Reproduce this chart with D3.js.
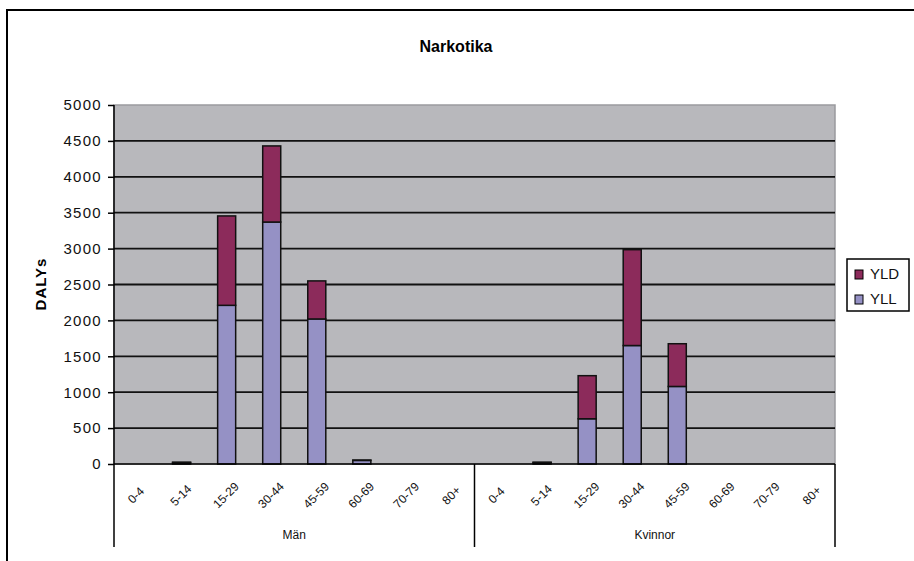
<!DOCTYPE html>
<html>
<head>
<meta charset="utf-8">
<script src="https://cdn.jsdelivr.net/npm/d3@7"></script>
<style>
  html, body { margin: 0; padding: 0; background: #fff; }
  svg { display: block; font-family: "Liberation Sans", Arial, sans-serif; }
</style>
</head>
<body>
<svg id="chart" width="914" height="561"></svg>
<script>
// Age groups within each sex
const groups = ["Män", "Kvinnor"];
const ageGroups = ["0-4", "5-14", "15-29", "30-44", "45-59", "60-69", "70-79", "80+"];

// DALYs split into years of life lost (YLL) and years lived with disability (YLD)
const yllMen = [0, 20, 2210, 3370, 2020, 50, 0, 0];
const yldMen = [0, 5, 1245, 1060, 530, 5, 0, 0];
const yllWomen = [0, 20, 630, 1650, 1080, 0, 0, 0];
const yldWomen = [0, 5, 600, 1335, 595, 0, 0, 0];

const yTicks = [0, 500, 1000, 1500, 2000, 2500, 3000, 3500, 4000, 4500, 5000];
const seriesNames = ["YLD", "YLL"];
const colors = { YLD: "#8c2b5b", YLL: "#9591c5" };

// Build one row per (sex, age) slot
const rows = [];
groups.forEach((g, gi) => {
  const yll = gi === 0 ? yllMen : yllWomen;
  const yld = gi === 0 ? yldMen : yldWomen;
  ageGroups.forEach((a, ai) => {
    rows.push({ key: g + "|" + a, group: g, age: a, YLL: yll[ai], YLD: yld[ai] });
  });
});

const svg = d3.select("#chart");
const plotL = 114, plotR = 835, plotT = 105, plotB = 464, axisEnd = 547;

const x = d3.scaleBand().domain(rows.map(d => d.key)).range([plotL, plotR]).padding(0);
const y = d3.scaleLinear().domain([0, 5000]).range([plotB, plotT]);

// Outer chart frame
svg.append("path")
  .attr("d", `M7,561 V10 H914`)
  .attr("fill", "none").attr("stroke", "#000").attr("stroke-width", 2);

// Title
svg.append("text")
  .attr("x", 456).attr("y", 52)
  .attr("text-anchor", "middle")
  .attr("font-size", 16).attr("font-weight", "bold")
  .text("Narkotika");

// Plot area background
svg.append("rect")
  .attr("x", plotL).attr("y", plotT)
  .attr("width", plotR - plotL).attr("height", plotB - plotT)
  .attr("fill", "#b8b8bc")
  .attr("stroke", "#9a9a9e").attr("stroke-width", 1.5);

// Horizontal gridlines
svg.append("g").selectAll("line")
  .data(yTicks.filter(t => t > 0 && t < 5000))
  .join("line")
  .attr("x1", plotL).attr("x2", plotR)
  .attr("y1", d => y(d)).attr("y2", d => y(d))
  .attr("stroke", "#111").attr("stroke-width", 1.8);

// Stacked bars
const stack = d3.stack().keys(["YLL", "YLD"]);
const stacked = stack(rows);
const barW = x.bandwidth() * 0.4;

svg.append("g").selectAll("g")
  .data(stacked)
  .join("g")
  .attr("fill", d => colors[d.key])
  .selectAll("rect")
  .data(d => d.filter(p => p[1] - p[0] > 0))
  .join("rect")
  .attr("x", p => x(p.data.key) + (x.bandwidth() - barW) / 2)
  .attr("width", barW)
  .attr("y", p => y(p[1]))
  .attr("height", p => y(p[0]) - y(p[1]))
  .attr("stroke", "#111").attr("stroke-width", 1.5);

// Y axis
const yAxis = d3.axisLeft(y).tickValues(yTicks).tickSize(6).tickPadding(6).tickFormat(d3.format("d"));
const yg = svg.append("g").attr("transform", `translate(${plotL},0)`).call(yAxis);
yg.select(".domain").remove();
yg.selectAll(".tick line").attr("stroke", "#000").attr("stroke-width", 1.5);
yg.selectAll(".tick text")
  .attr("font-family", "'Liberation Sans', Arial, sans-serif")
  .attr("font-size", 15).attr("letter-spacing", 1.3).attr("fill", "#111");

// Axis lines: left axis, baseline, and group separators below the baseline
svg.append("line").attr("x1", plotL).attr("x2", plotL).attr("y1", plotT).attr("y2", axisEnd)
  .attr("stroke", "#000").attr("stroke-width", 1.5);
svg.append("line").attr("x1", plotL).attr("x2", plotR).attr("y1", plotB).attr("y2", plotB)
  .attr("stroke", "#000").attr("stroke-width", 1.5);
const groupEdges = [x(groups[1] + "|" + ageGroups[0]), plotR];
svg.append("g").selectAll("line").data(groupEdges).join("line")
  .attr("x1", d => d).attr("x2", d => d).attr("y1", plotB).attr("y2", axisEnd)
  .attr("stroke", "#000").attr("stroke-width", 1.5);

// Age labels, rotated
svg.append("g").selectAll("text")
  .data(rows)
  .join("text")
  .attr("transform", d => `translate(${x(d.key) + x.bandwidth() / 2},${496}) rotate(-45)`)
  .attr("text-anchor", "middle")
  .attr("dominant-baseline", "middle")
  .attr("font-size", 12)
  .attr("fill", "#111")
  .text(d => d.age);

// Sex labels
svg.append("g").selectAll("text")
  .data(groups)
  .join("text")
  .attr("x", g => {
    const first = x(g + "|" + ageGroups[0]);
    const last = x(g + "|" + ageGroups[ageGroups.length - 1]) + x.bandwidth();
    return (first + last) / 2;
  })
  .attr("y", 539)
  .attr("text-anchor", "middle")
  .attr("font-size", 12)
  .attr("fill", "#111")
  .text(g => g);

// Y axis title
svg.append("text")
  .attr("transform", `translate(46,284) rotate(-90)`)
  .attr("text-anchor", "middle")
  .attr("font-size", 15).attr("font-weight", "bold")
  .attr("letter-spacing", 1)
  .text("DALYs");

// Legend
const lg = svg.append("g").attr("transform", "translate(847,259)");
lg.append("rect").attr("width", 62).attr("height", 52)
  .attr("fill", "#fff").attr("stroke", "#000").attr("stroke-width", 1.5);
seriesNames.forEach((s, i) => {
  const row = lg.append("g").attr("transform", `translate(8,${11 + i * 25})`);
  row.append("rect").attr("width", 8).attr("height", 9)
    .attr("fill", colors[s]).attr("stroke", "#000").attr("stroke-width", 1);
  row.append("text").attr("x", 15).attr("y", 9)
    .attr("font-size", 15).attr("fill", "#111")
    .text(s);
});
</script>
</body>
</html>
